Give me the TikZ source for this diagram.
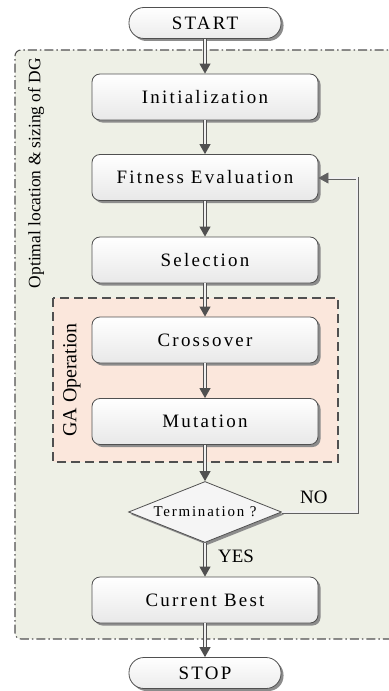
\documentclass[tikz,border=0pt]{standalone}
\usepackage{fontspec}
\setmainfont{Liberation Serif}
\newfontfamily\lsfont[LetterSpace=12]{Liberation Serif}
\usetikzlibrary{arrows.meta,shapes.geometric}
\definecolor{outerfill}{RGB}{238,240,230}
\definecolor{gafill}{RGB}{251,231,220}
\definecolor{edge}{RGB}{80,80,80}
\definecolor{shade}{RGB}{140,140,140}
\begin{document}
\begin{tikzpicture}[x=1bp,y=-1bp,
  shadowed/.style={preaction={fill=shade,transform canvas={xshift=2.5bp,yshift=-2.5bp}}},
  procbox/.style={shadowed,draw=edge,line width=0.8bp,rounded corners=8bp,
    top color=white,bottom color=gray!18,minimum width=226bp,minimum height=46bp,
    inner sep=0pt,font=\lsfont\fontsize{19}{22}\selectfont},
  termbox/.style={shadowed,draw=edge,line width=0.8bp,rounded corners=15bp,
    top color=white,bottom color=gray!15,minimum width=152bp,minimum height=31bp,
    inner sep=0pt,font=\lsfont\fontsize{19}{22}\selectfont},
  decbox/.style={shadowed,diamond,draw=edge,line width=0.8bp,fill=gray!8,
    minimum width=153bp,minimum height=61bp,inner sep=0pt,aspect=2.5,
    font=\lsfont\fontsize{15}{18}\selectfont},
  arr/.style={draw=edge,line width=0.9bp,double=gray!12,double distance=1.6bp,
    -{Triangle[length=10bp,width=11bp]}},
  lbl/.style={font=\fontsize{19}{22}\selectfont,inner sep=0pt}
]
\useasboundingbox (0,0) rectangle (388,691);
% outer group
\draw[fill=outerfill,draw=edge,line width=1.1bp,
  dash pattern=on 9bp off 3bp on 1.5bp off 3bp,rounded corners=6bp]
  (400,50) -- (15,50) -- (15,639) -- (400,639);
\node[rotate=90,font=\fontsize{17.5}{20}\selectfont,inner sep=0pt] (lblouter) at (36,173) {Optimal location \& sizing of DG};
% GA group
\draw[fill=gafill,draw=edge,line width=1.4bp,dash pattern=on 9bp off 5bp]
  (53,298) rectangle (338,462);
\node[rotate=90,font=\fontsize{20}{22}\selectfont,inner sep=0pt] (lblga) at (72,380) {GA Operation};
% nodes
\node[termbox] (start) at (205,23) {START};
\node[procbox] (init) at (205,97) {Initialization};
\node[procbox] (fit) at (205,177.5) {Fitness Evaluation};
\node[procbox] (sel) at (205,260) {Selection};
\node[procbox] (cross) at (205,340) {Crossover};
\node[procbox] (mut) at (205,421.5) {Mutation};
\node[decbox] (term) at (205,512) {Termination ?};
\node[procbox] (best) at (205,600) {Current Best};
\node[termbox] (stop) at (205,673) {STOP};
% connectors
\draw[arr] (start) -- (init);
\draw[arr] (init) -- (fit);
\draw[arr] (fit) -- (sel);
\draw[arr] (sel) -- (cross);
\draw[arr] (cross) -- (mut);
\draw[arr] (mut) -- (term);
\draw[arr] (term) -- (best);
\draw[arr] (best) -- (stop);
\coordinate (fb1) at (357,512);
\coordinate (fb2) at (357,178);
\draw[arr,draw=gray!75!black,line width=0.7bp] (term.east) -- (fb1) -- (fb2) -- (fit.east |- fb2);
\node[lbl,anchor=base west] (no) at (300,503) {NO};
\node[lbl,anchor=base west] (yes) at (218,562) {YES};
\end{tikzpicture}
\end{document}
